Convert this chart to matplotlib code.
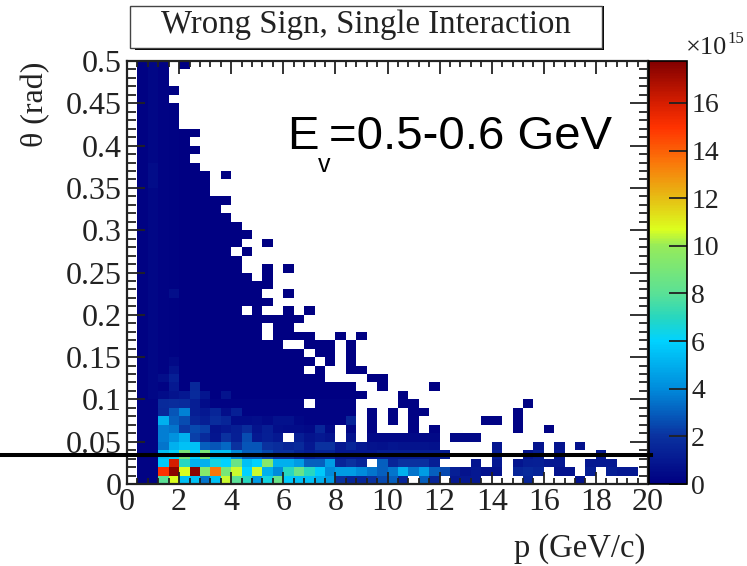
#! /usr/bin/env python3
# coding: utf-8

import numpy as np
import matplotlib
matplotlib.use('Agg')
import matplotlib.pyplot as plt
from matplotlib.colors import LinearSegmentedColormap
from matplotlib.lines import Line2D
from matplotlib.patches import Rectangle

_ = np.nan

x_edges = [0.4 * k for k in range(51)]
y_edges = [0.01 * k for k in range(51)]

# lowest rows, values in units of 1e15, left to right
row_0 = [_, .2, .2, 8, 10.7, 5.5, 5.5, 3.5, 5.5, 10.5, 8, 7, 4.5, 6.5, 8.5, 5.8, 5.5, 5.5, 5, 4.5, 2, 1.5, 1.5, 2, 2.5,
         3, 1.5, _, 3, 1.5, _, 1, 1, 1, _, _, _, _, 1.5, _, _, _, _, .8]
row_1 = [_, .2, .2, 15, 17.5, 10.7, 17.5, 9.5, 13.5, 9, 10.5, 6, 10.5, 5, 4, 7, 8.5, 7, 5.8, 4, 4.5, 4.5, 4, 3.5, 3,
         3.5, 5, 3.5, 4.5, 3, 2.5, 1.3, .8, 1, .8, .8, _, 1.5, 1.7, 1.5, _, .8, .8, _, 1.2, _, 1.2, 1, 1]
row_2 = [_, .2, .2, 5.8, 16, 7, 5, 5, 6.5, 6, 8.5, 5.5, 6, 9.5, 5, 5, 4.5, 3, 3, 4.5, 1.5, 2, 1.5, _, 3,
         1.5, 2, 2, 2, 1.3, _, _, _, .9, _, 1, _, .9, 1.2, 1.3, 1, 1, _, _, 1, 1, 1]
row_3 = [_, .2, .2, 5.5, 6, 9, 6, 9, 5.5, 5.5, 4, 3, 3, 2.5, 2, 2, 1.5, 1.2, 1.5, 1.5, 1, 1, 1, 1, 1.2,
         1.2, 1.2, 1.2, 1.2, 1.2, 1.2, _, _, _, _, 1.3, _, _, .9, 1.2, _, 1, _, _, _, 1]
row_4 = [_, .2, .2, 3.5, 5, 5.5, 5.5, 3, 2.8, 3.2, 2, 2.8, 2.8, 2, 1.8, 1.5, 1.7, 1, 2, 2, 1, 1.5, 1, .8, .7,
         .9, .8, .8, .8, .7, _, _, _, _, _, .9, _, _, _, .8, _, .8, _, .7]
row_5 = [_, .2, .2, 3.7, 4.2, 5, 2.3, 1.7, .9, 2, 1.3, 2.6, 1, 1.3, 1, _, 1.2, .8, 1, .8, _, .8, _, .4, .4,
         .4, .4, .4, .4, .4, _, .4, .4, .4]
row_6 = [_, .2, .2, 3.7, 3.5, 2.2, 2.5, 2.3, .8, 1, 1.2, 1.8, .8, 1.2, .6, .5, .5, .4, 1.5, .4, _, .3, _, .2, _,
         _, _, .2, _, .2, _, _, _, _, _, _, _, .2, _, _, .2]
row_7 = [_, .2, .2, 5, 3, 2.6, 1.5, 1.2, 1.8, 1.5, .5, .5, .6, .4, .7, .7, .3, .2, .2, .2, .2, 1.5, _, .2, _,
         .2, _, .2, _, _, _, _, _, _, .2, .2, _, .2]
row_8 = [_, .2, .2, 1.6, 2.8, 3.8, 1.2, 1, 1.5, .6, 1.3, .2, .2, .2, .2, .2, .2, .2, .2, .2, .2, .2, _, .2, _,
         .2, _, .2, .2, _, _, _, _, _, _, _, _, .2]
row_9 = [_, .2, .2, 1.7, 1.8, 1.7, 1.2, .5, .2, .2, .2, .2, .2, .2, .2, .2, .2, _, .2, .2, .2, .2, _, _, _,
         _, .2, .2, _, _, _, _, _, _, _, _, _, _, .2]
low_rows = [row_0, row_1, row_2, row_3, row_4, row_5, row_6, row_7, row_8, row_9]

# upper rows are all dark navy: only the occupied bins (first, last) matter
span_10 = [(1, 22), (26, 26)]
span_11 = [(1, 21), (24, 24), (29, 29)]
span_12 = [(1, 18), (23, 24)]
span_13 = [(1, 16), (18, 18), (21, 22)]
span_14 = [(1, 17), (19, 19), (21, 21)]
span_15 = [(1, 16), (18, 19), (21, 21)]
span_16 = [(1, 14), (17, 19), (21, 21)]
span_17 = [(1, 12), (14, 17), (20, 20), (22, 22)]
span_18 = [(1, 12), (14, 15)]
span_19 = [(1, 16)]
span_20 = [(1, 10), (12, 12), (15, 15), (17, 17)]
span_21 = [(1, 13)]
span_22 = [(1, 12), (15, 15)]
span_23 = [(1, 13)]
span_24 = [(1, 11), (13, 13)]
span_25 = [(1, 10), (13, 13), (15, 15)]
span_26 = [(1, 10)]
span_27 = [(1, 9), (11, 11)]
span_28 = [(1, 10), (13, 13)]
span_29 = [(1, 11)]
span_30 = [(1, 10)]
span_31 = [(1, 9)]
span_32 = [(1, 8)]
span_33 = [(1, 9)]
span_34 = [(1, 7)]
span_35 = [(1, 7)]
span_36 = [(1, 7), (9, 9)]
span_37 = [(1, 6)]
span_38 = [(1, 5)]
span_39 = [(1, 6)]
span_40 = [(1, 5)]
span_41 = [(1, 6)]
span_42 = [(1, 4)]
span_43 = [(1, 4)]
span_44 = [(1, 4)]
span_45 = [(1, 3)]
span_46 = [(1, 4)]
span_47 = [(1, 3)]
span_48 = [(1, 3)]
span_49 = [(1, 3), (5, 5)]
upper_spans = [span_10, span_11, span_12, span_13, span_14, span_15, span_16, span_17, span_18, span_19,
               span_20, span_21, span_22, span_23, span_24, span_25, span_26, span_27, span_28, span_29,
               span_30, span_31, span_32, span_33, span_34, span_35, span_36, span_37, span_38, span_39,
               span_40, span_41, span_42, span_43, span_44, span_45, span_46, span_47, span_48, span_49]

# dark level of the first columns in the upper rows, the rest is dark_rest
dark_first = [_, .1, .3, .2, .1]
dark_rest = .05
# brighter bins above row 9: (row, column, value)
bright_row = [10, 10, 10, 10, 10, 10, 11, 11, 12, 12, 13, 14, 22, 35, 36, 37]
bright_col = [3, 4, 5, 6, 7, 9, 4, 6, 3, 4, 4, 4, 4, 2, 2, 2]
bright_val = [.5, .8, 1, 1.7, .9, .8, 1, 1.6, .6, 1.3, .8, .4, .6, .5, .5, .5]

x_ticks = [0, 2, 4, 6, 8, 10, 12, 14, 16, 18, 20]
y_ticks = [0, .05, .1, .15, .2, .25, .3, .35, .4, .45, .5]
y_labels = ['0', '0.05', '0.1', '0.15', '0.2', '0.25', '0.3', '0.35', '0.4', '0.45', '0.5']
z_ticks = [0, 2, 4, 6, 8, 10, 12, 14, 16]
z_max = 17.76

# ROOT style rainbow
cmap_pos = [0, 2, 4, 6, 7, 8, 10, 10.7, 12, 13.5, 15, 16, 17.76]
cmap_col = ['#000082', '#0a32a0', '#008cdc', '#00d2ff', '#28d7be', '#5ae196', '#96eb5a', '#dcff1e', '#e6be14',
            '#fa780a', '#ff3200', '#d71e00', '#820000']
cmap = LinearSegmentedColormap.from_list('root', [(p / z_max, c) for p, c in zip(cmap_pos, cmap_col)])

hist = np.full((50, 50), np.nan)
for j, row in enumerate(low_rows):
    hist[j, :len(row)] = row
for j, spans in enumerate(upper_spans):
    for first, last in spans:
        hist[j + 10, first:last + 1] = dark_rest
        for i in range(first, min(last + 1, len(dark_first))):
            hist[j + 10, i] = dark_first[i]
for j, i, v in zip(bright_row, bright_col, bright_val):
    hist[j, i] = v

serif = 'Liberation Serif'
W, H = 747, 566
fig = plt.figure(figsize=(W / 100, H / 100), dpi=100)
ax = fig.add_axes([127 / W, 1 - 484 / H, 521 / W, 423 / H])
mesh = ax.pcolormesh(x_edges, y_edges, np.ma.masked_invalid(hist), cmap=cmap, vmin=0, vmax=z_max, zorder=1)
ax.set_xlim(0, 20)
ax.set_ylim(0, .5)
ax.set_axisbelow(False)
for s in ax.spines.values():
    s.set_linewidth(1.6)
    s.set_color('#222222')
    s.set_zorder(5)

ax.set_xticks(x_ticks)
ax.set_yticks(y_ticks)
ax.set_yticklabels(y_labels)
ax.set_xticks(np.arange(0, 20.01, .4), minor=True)
ax.set_yticks(np.arange(0, .501, .01), minor=True)
ax.tick_params(axis='x', which='major', direction='in', top=True, length=9, width=1.3, labelsize=23, pad=3,
               labelfontfamily=serif, color='#222222', labelcolor='#222222')
ax.tick_params(axis='x', which='minor', direction='in', top=True, length=4.5, width=1.3, color='#222222')
ax.tick_params(axis='y', which='major', direction='in', right=True, length=13, width=1.3, labelsize=23, pad=4,
               labelfontfamily=serif, color='#222222', labelcolor='#222222')
ax.tick_params(axis='y', which='minor', direction='in', right=True, length=6.5, width=1.3, color='#222222')

cax = fig.add_axes([649 / W, 1 - 484 / H, 38 / W, 423 / H])
cb = fig.colorbar(mesh, cax=cax, ticks=z_ticks)
cb.outline.set_linewidth(1.2)
cb.ax.tick_params(direction='in', length=13, width=1.3, labelsize=20, pad=3, labelfontfamily=serif, color='#222222',
                  labelcolor='#222222')

fig.text(36 / W, 1 - 104 / H, 'θ (rad)', rotation=90, fontsize=23, family=serif, ha='center', va='center',
         color='#222222')
fig.text(645 / W, 1 - 549 / H, 'p (GeV/c)', fontsize=23.5, family=serif, ha='right', va='center', color='#222222')
fig.text(686 / W, 1 - 48 / H, '×10', fontsize=19, family=serif, ha='left', va='center', color='#222222')
fig.text(727 / W, 1 - 39 / H, '15', fontsize=12, family=serif, ha='left', va='center', color='#222222')

# title box with its shadow
fig.add_artist(Rectangle((135 / W, 1 - 50 / H), 469 / W, 44 / H, transform=fig.transFigure, fc='black', ec='none'))
fig.add_artist(Rectangle((130 / W, 1 - 48 / H), 472 / W, 42 / H, transform=fig.transFigure, fc='white', ec='#444444',
                         lw=1))
fig.text(366 / W, 1 - 25 / H, 'Wrong Sign, Single Interaction', fontsize=23.7, family=serif, ha='center', va='center',
         color='#222222')

fig.text(287 / W, 1 - 137 / H, 'E', fontsize=34, family='Liberation Sans', ha='left', va='center')
fig.text(318 / W, 1 - 165 / H, 'v', fontsize=18, family='Liberation Sans', ha='left', va='center')
fig.text(329 / W, 1 - 137 / H, '=0.5-0.6 GeV', fontsize=34, family='Liberation Sans', ha='left', va='center')

fig.add_artist(Line2D([0, 651 / W], [1 - 455 / H, 1 - 455 / H], transform=fig.transFigure, color='black', lw=2.9,
                      zorder=10))

plt.savefig('out.png', dpi=100)
